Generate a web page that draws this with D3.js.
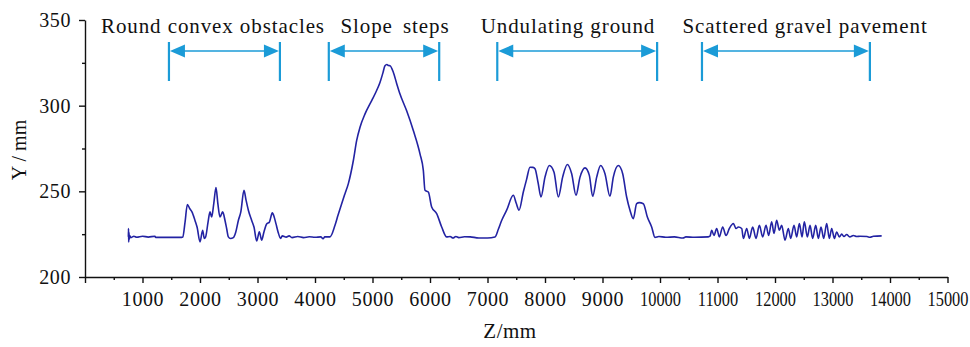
<!DOCTYPE html>
<html>
<head>
<meta charset="utf-8">
<script src="https://cdn.jsdelivr.net/npm/d3@7"></script>
<style>
  body { margin: 0; background: #fff; }
  svg text { font-family: "Liberation Serif", "DejaVu Serif", serif; fill: #111; }
</style>
</head>
<body>
<svg id="chart" width="970" height="347"></svg>
<script>
// profile readings, split by road section
const startZ = [754, 757, 760, 765, 770, 780, 800, 850, 900, 1000, 1100, 1217, 1230, 1400, 1681];
const startY = [223.5, 228.3, 220.5, 226, 222, 224, 223, 223.8, 223.2, 223.8, 223.3, 223.8, 223.1, 223.1, 223.1];

const obstacleZ = [1700, 1740, 1780, 1820, 1860, 1913, 1950, 2000, 2046, 2075, 2098, 2140, 2174, 2203, 2240, 2278, 2310, 2348, 2394, 2435, 2465, 2493, 2530, 2580, 2620, 2667, 2710, 2765, 2800, 2841, 2899, 2940, 2986, 3032, 3072, 3110, 3159, 3206, 3258, 3290, 3322, 3360, 3403, 3430, 3500, 3550, 3600, 3700, 3800, 3900, 4000, 4100, 4140, 4170];
const obstacleY = [223.3, 232, 242.3, 240, 238, 233, 229, 220.5, 227.3, 222.5, 223.4, 232, 238, 235, 243, 252.2, 243, 235, 238, 233, 228, 223.4, 222.5, 223, 226, 233, 238, 250.6, 245, 239, 233, 229, 221, 226.4, 221.5, 226, 231, 232, 237.4, 235, 231, 226, 222.5, 224, 223.3, 224, 223, 223.6, 223, 223.5, 223.2, 223.4, 222.3, 223.4];

const slopeZ = [4261, 4348, 4400, 4464, 4520, 4580, 4667, 4725, 4783, 4870, 4986, 5060, 5130, 5180, 5217, 5250, 5280, 5304, 5362, 5420, 5478, 5594, 5710, 5826, 5884, 5913, 5971, 6029, 6116, 6203, 6290, 6350, 6400, 6450, 6500, 6600, 6700, 6850, 7000];
const slopeY = [223.4, 230.2, 236, 242.8, 248.5, 254.5, 268, 279.7, 287.4, 295.2, 303, 308, 313.5, 319, 323.3, 324, 323.4, 323.3, 319.5, 313, 306.8, 297, 285.5, 271.9, 262.2, 250.6, 249.6, 240.9, 237, 229.2, 223.4, 223.6, 222.8, 223.6, 223, 223.5, 223.4, 222.8, 222.8];

const undulateZ = [7130, 7190, 7246, 7333, 7449, 7500, 7548, 7623, 7680, 7739, 7790, 7826, 7880, 7930, 8000, 8075, 8157, 8232, 8307, 8388, 8464, 8539, 8609, 8696, 8771, 8829, 8899, 8968, 9043, 9130, 9188, 9275, 9351, 9420, 9478, 9536, 9594, 9640, 9710, 9780, 9855, 9913, 9980, 10100, 10250, 10400, 10450, 10600, 10840];
const undulateY = [223.4, 228, 233, 239, 247.7, 243, 239, 249.6, 257, 264.1, 264, 263.2, 255, 246.7, 258.3, 265.1, 261.2, 246.7, 258.3, 265.7, 260.3, 247.7, 258.3, 263.7, 259.3, 247.1, 258.3, 265.1, 260.3, 247.1, 258.3, 265.1, 260.3, 246.7, 239, 234.1, 242.8, 243.4, 242.8, 235, 229.2, 223.1, 223.6, 223.2, 223.4, 222.8, 223.4, 223.2, 223.4];

const gravelZ = [10870, 10899, 10939, 10986, 11032, 11090, 11148, 11206, 11276, 11322, 11363, 11421, 11450, 11508, 11554, 11612, 11670, 11728, 11786, 11844, 11890, 11942, 11983, 12029, 12076, 12116, 12174, 12232, 12273, 12331, 12377, 12424, 12470, 12510, 12563, 12609, 12655, 12708, 12754, 12800, 12847, 12899, 12945, 12986, 13032, 13073, 13119, 13160, 13200, 13247, 13300, 13363, 13421, 13479, 13600, 13653, 13711, 13855];
const gravelY = [223.8, 227.3, 224.2, 228.3, 223.4, 229.2, 224.2, 228.3, 231.2, 228.3, 229.2, 228.3, 222.5, 228.3, 222.5, 229.2, 222.5, 230.2, 223.4, 230.2, 224.2, 232.2, 225.4, 233.1, 227.3, 230.2, 221.5, 228.3, 222.5, 230.2, 223.4, 231.2, 223.4, 232.2, 223.4, 230.2, 222.5, 230.2, 222.5, 229.2, 222.5, 231.2, 222.5, 228.3, 222.5, 226.3, 223.4, 225, 223.6, 224.8, 223.4, 224.2, 223.6, 223.8, 223.6, 223.2, 223.8, 224];

// annotated sections
const sectionNames = ["Round convex obstacles", "Slope steps", "Undulating ground", "Scattered gravel pavement"];
const sectionStart = [1460, 4240, 7170, 10730];
const sectionEnd = [3390, 6160, 9950, 13650];
const sectionLabelZ = [2226, 5391, 8400, 12522];

const xTicks = d3.range(0, 15001, 1000);
const xMinorTicks = d3.range(500, 15000, 1000);
const yTicks = [200, 250, 300, 350];
const yMinorTicks = [225, 275, 325];

const zAll = [].concat(startZ, obstacleZ, slopeZ, undulateZ, gravelZ);
const yAll = [].concat(startY, obstacleY, slopeY, undulateY, gravelY);
const profile = zAll.map((z, i) => ({ z: z, y: yAll[i] }));

const svg = d3.select("#chart");
const x = d3.scaleLinear().domain([0, 15000]).range([85, 947.5]);
const y = d3.scaleLinear().domain([200, 350]).range([277, 20]);

// X axis
const xAxis = svg.append("g")
  .attr("transform", "translate(0,277)")
  .call(d3.axisBottom(x).tickValues(xTicks).tickSize(6).tickSizeOuter(0).tickPadding(9)
    .tickFormat(d => d === 0 ? "" : d));
xAxis.selectAll("text").style("font-size", "20px").attr("fill", "#111")
  .each(function (d) {
    // the wide five-digit labels are squeezed in the original
    if (d >= 10000) d3.select(this).attr("transform", "scale(0.82,1)");
    else d3.select(this).style("letter-spacing", "0.6px");
  });
svg.append("g")
  .attr("transform", "translate(0,277)")
  .call(d3.axisBottom(x).tickValues(xMinorTicks).tickSize(3).tickSizeOuter(0).tickFormat(""))
  .select(".domain").remove();

// Y axis
const yAxis = svg.append("g")
  .attr("transform", "translate(85,0)")
  .call(d3.axisLeft(y).tickValues(yTicks).tickSize(6).tickSizeOuter(0).tickPadding(8));
yAxis.selectAll("text").style("font-size", "20px").style("letter-spacing", "0.6px").attr("fill", "#111");
svg.append("g")
  .attr("transform", "translate(85,0)")
  .call(d3.axisLeft(y).tickValues(yMinorTicks).tickSize(3).tickSizeOuter(0).tickFormat(""))
  .select(".domain").remove();

svg.selectAll(".domain, .tick line").attr("stroke", "#111").attr("stroke-width", 1.4);

// axis titles
svg.append("text")
  .attr("x", 510).attr("y", 338)
  .attr("text-anchor", "middle")
  .style("font-size", "21px")
  .style("letter-spacing", "0.5px")
  .text("Z/mm");
svg.append("text")
  .attr("transform", "translate(26,150) rotate(-90)")
  .attr("text-anchor", "middle")
  .style("font-size", "20px")
  .text("Y / mm");

// profile line
const line = d3.line().x(d => x(d.z)).y(d => y(d.y)).curve(d3.curveMonotoneX);
svg.append("path")
  .datum(profile)
  .attr("d", line)
  .attr("fill", "none")
  .attr("stroke", "#2323a3")
  .attr("stroke-width", 1.6)
  .attr("stroke-linejoin", "round");

// section arrows
const arrowColor = "#1b9bd7";
const arrows = svg.append("g");
sectionNames.forEach((name, i) => {
  const x0 = x(sectionStart[i]);
  const x1 = x(sectionEnd[i]);
  const g = arrows.append("g");
  g.append("line").attr("x1", x0).attr("x2", x0).attr("y1", 42).attr("y2", 81)
    .attr("stroke", arrowColor).attr("stroke-width", 2.2);
  g.append("line").attr("x1", x1).attr("x2", x1).attr("y1", 42).attr("y2", 81)
    .attr("stroke", arrowColor).attr("stroke-width", 2.2);
  g.append("line").attr("x1", x0 + 10).attr("x2", x1 - 10).attr("y1", 51).attr("y2", 51)
    .attr("stroke", arrowColor).attr("stroke-width", 1.5);
  g.append("path")
    .attr("d", `M${x0 + 1},51 L${x0 + 16},44.5 L${x0 + 16},57.5 Z`)
    .attr("fill", arrowColor);
  g.append("path")
    .attr("d", `M${x1 - 1},51 L${x1 - 16},44.5 L${x1 - 16},57.5 Z`)
    .attr("fill", arrowColor);
  svg.append("text")
    .attr("x", x(sectionLabelZ[i])).attr("y", 33)
    .attr("text-anchor", "middle")
    .style("font-size", "21px")
    .style("letter-spacing", "0.9px")
    .style("word-spacing", name === "Slope steps" ? "4px" : null)
    .text(name);
});
</script>
</body>
</html>
